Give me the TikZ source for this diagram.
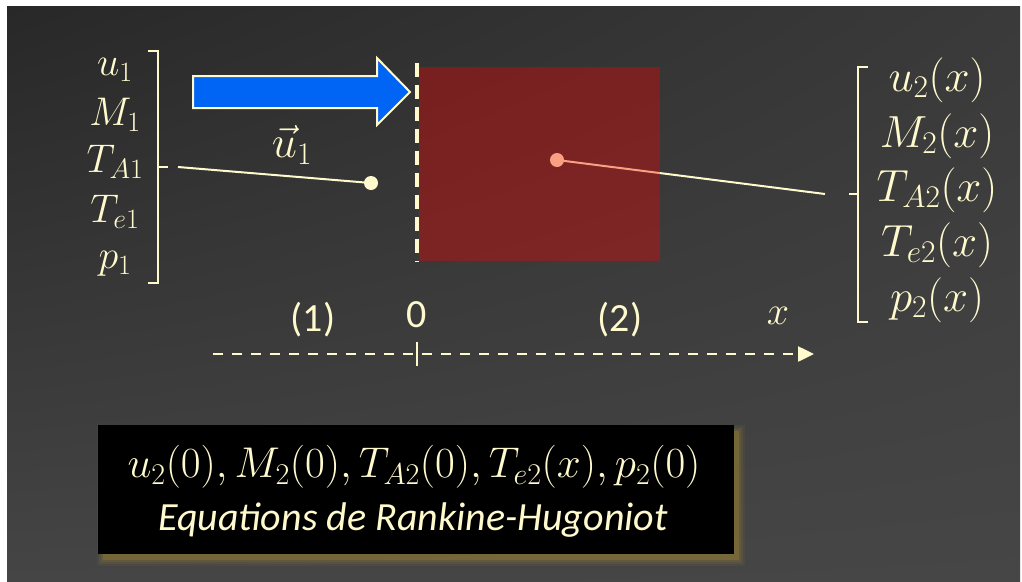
\RequirePackage{fix-cm}
\documentclass[tikz,border=0pt]{standalone}
\usepackage{fontspec}
\newfontfamily\carlito{Carlito}
\usetikzlibrary{arrows.meta,shadings}
\definecolor{cream}{RGB}{255,250,205}
\definecolor{bgul}{RGB}{40,40,40}
\definecolor{bgur}{RGB}{58,58,58}
\definecolor{bgll}{RGB}{69,69,69}
\definecolor{bglr}{RGB}{70,70,70}
\definecolor{flowblue}{RGB}{0,100,245}
\definecolor{shockred}{RGB}{245,0,0}
\definecolor{shadowgold}{RGB}{160,135,50}
\tikzset{
  lab/.style={text=cream, font=\fontsize{40}{44}\selectfont, inner sep=0pt},
  rlab/.style={text=cream, font=\fontsize{45}{48}\selectfont, inner sep=0pt},
  sanslab/.style={text=cream, font=\carlito\fontsize{40}{44}\selectfont, inner sep=0pt},
  bracketline/.style={draw=cream, line width=2.5pt},
  conn/.style={draw=cream, line width=2pt},
  dotnode/.style={circle, fill=cream, minimum size=14pt, inner sep=0pt},
}
\begin{document}
\begin{tikzpicture}[x=1pt,y=-1pt]
\useasboundingbox (0,0) rectangle (1022,581);
\fill[white] (0,0) rectangle (1022,581);
\shade[upper left=bgul, upper right=bgur, lower left=bgll, lower right=bglr] (7,6) rectangle (1020,581);

% left labels
\node[lab, anchor=base] (l1) at (115,75) {$u_1$};
\node[lab, anchor=base] (l2) at (115,125) {$M_1$};
\node[lab, anchor=base] (l3) at (115,172) {$T_{A1}$};
\node[lab, anchor=base] (l4) at (115,222) {$T_{e1}$};
\node[lab, anchor=base] (l5) at (115,268) {$p_1$};
\draw[bracketline] (148,51) -- (158,51) -- (158,283) -- (148,283);
\draw[bracketline] (158,167) -- (168,167);
\coordinate (lstart) at (178,167);

% right labels
\node[rlab, anchor=base] (r1) at (937,91) {$u_2(x)$};
\node[rlab, anchor=base] (r2) at (937,147) {$M_2(x)$};
\node[rlab, anchor=base] (r3) at (937,201) {$T_{A2}(x)$};
\node[rlab, anchor=base] (r4) at (937,256) {$T_{e2}(x)$};
\node[rlab, anchor=base] (r5) at (937,311) {$p_2(x)$};
\draw[bracketline] (868,67) -- (858,67) -- (858,322) -- (868,322);
\draw[bracketline] (858,194) -- (849,194);
\coordinate (rstart) at (825,194);

% connectors and dots
\node[dotnode] (ldot) at (371,183) {};
\node[dotnode] (rdot) at (557,160) {};
\draw[conn] (lstart) -- (ldot.center);
\draw[conn] (rstart) -- (rdot.center);

% shocked region
\fill[shockred, fill opacity=0.36] (419,67) rectangle (660,261);

% shock front
\draw[cream, line width=3.5pt, dash pattern=on 14pt off 8pt] (417,63) -- (417,262);

% flow arrow
\draw[cream, line width=2pt, fill=flowblue, line join=miter]
  (193,76) -- (377,76) -- (377,58) -- (410,92) -- (377,125) -- (377,108) -- (193,108) -- cycle;
\node[rlab] (u1vec) at (292,145) {$\vec{u}_1$};

% axis
\coordinate (axstart) at (213,354);
\coordinate (axend) at (814,354);
\draw[cream, line width=2.5pt, dash pattern=on 10pt off 9pt, -{Triangle[length=16pt,width=15pt]}] (axstart) -- (axend);
\draw[cream, line width=2.5pt] (417,342) -- (417,366);
\node[sanslab] (reg1) at (313,320) {(1)};
\node[sanslab] (zero) at (417,315) {0};
\node[sanslab] (reg2) at (620,320) {(2)};
\node[lab] (xlab) at (778,316) {$x$};

% bottom box with shadow
\foreach \d/\o in {6/0.08,4/0.12,2/0.18,0/0.3}
  \fill[shadowgold, opacity=\o] (103-\d,431-\d) rectangle (739+\d,560+\d);
\node[fill=black, minimum width=636pt, minimum height=129pt, inner sep=0pt] (box) at (416,489.5) {};
\node[text=cream, font=\fontsize{43}{46}\selectfont, inner sep=0pt] (eqs) at (414,467) {$u_2(0), M_2(0), T_{A2}(0), T_{e2}(x), p_2(0)$};
\node[text=cream, font=\carlito\itshape\fontsize{40}{44}\selectfont, inner sep=0pt] (rh) at (413,520) {Equations de Rankine-Hugoniot};
\end{tikzpicture}
\end{document}
